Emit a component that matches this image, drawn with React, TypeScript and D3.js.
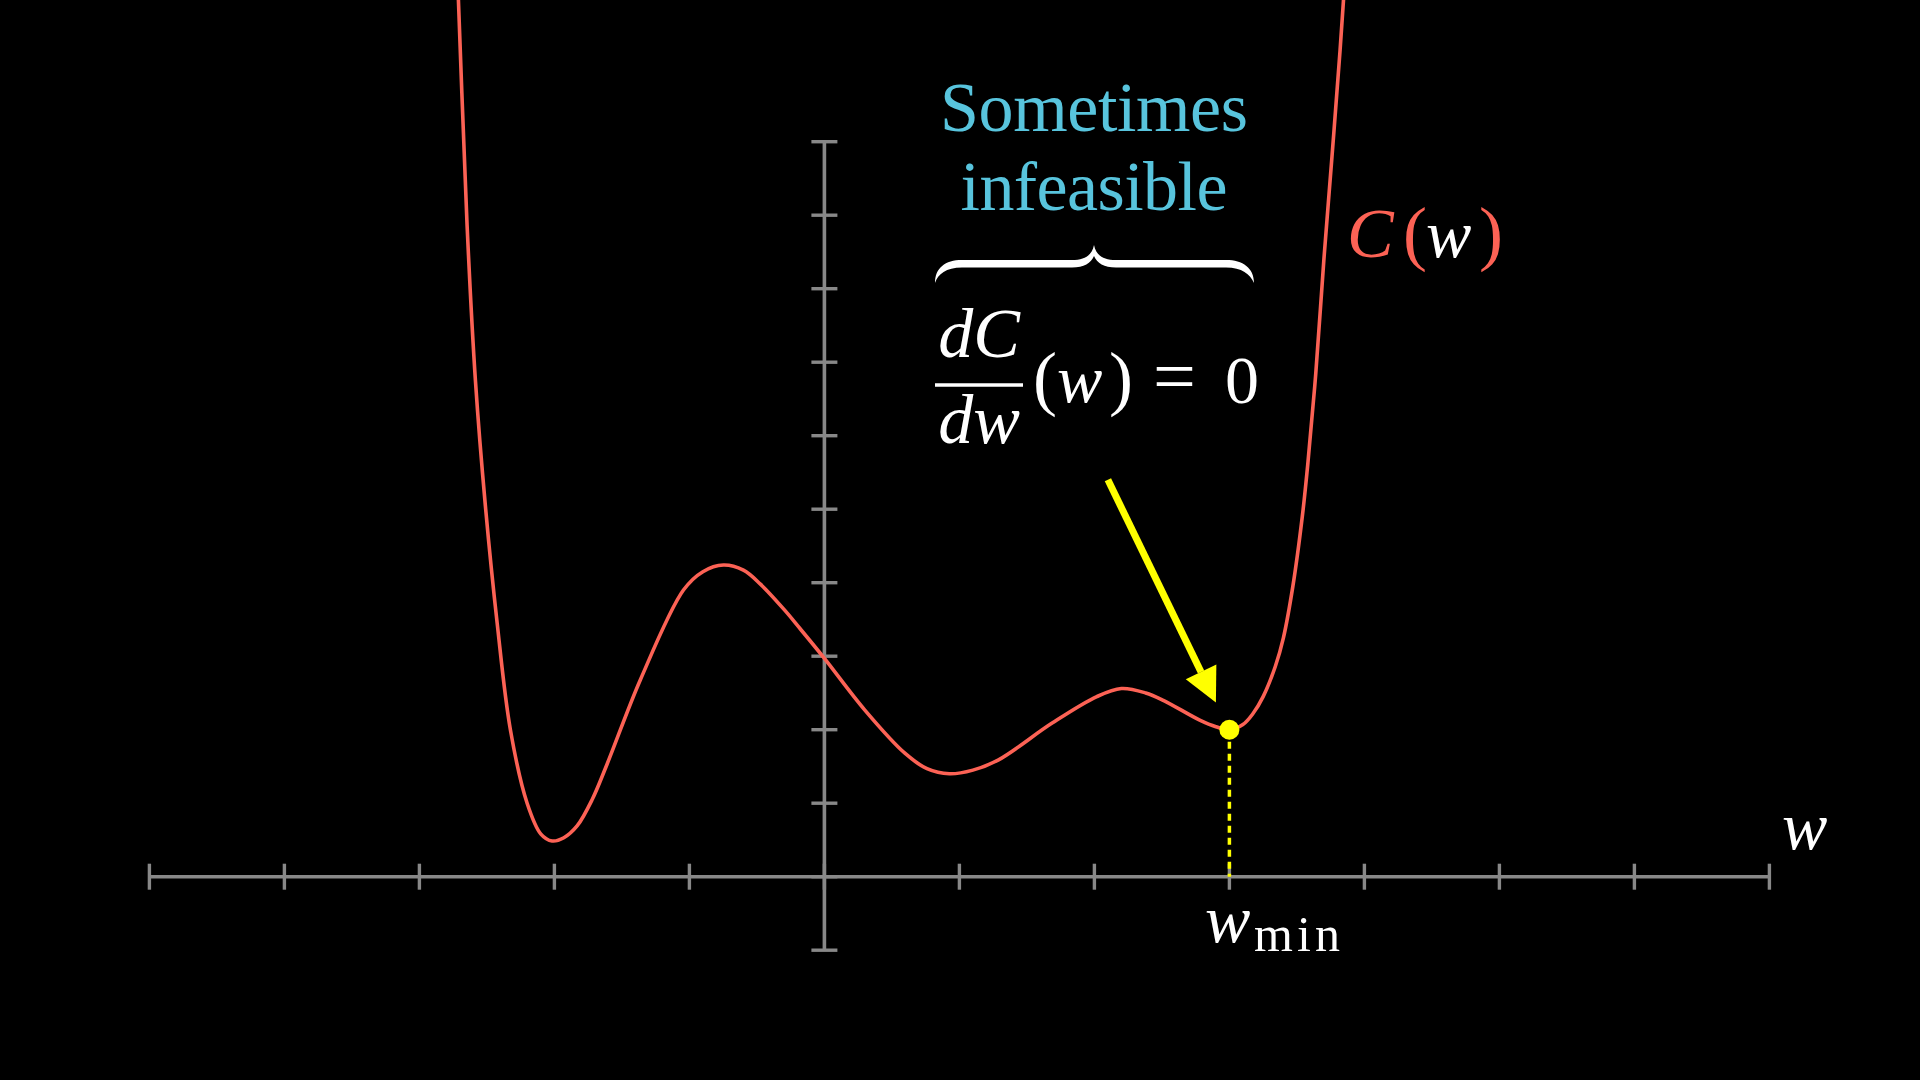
import React from 'react';
import * as d3 from 'd3';

// Cost curve C(w)
const curveW = [
  -2.77, -2.711, -2.647, -2.585, -2.511, -2.424, -2.326, -2.202, -2.1, -2.017, -1.93, -1.832,
  -1.72, -1.61, -1.363, -1.044, -0.9, -0.748, -0.6, -0.474, -0.296, -0.178, 0, 0.298, 0.596,
  0.76, 0.926, 1.1, 1.29, 1.687, 2.018, 2.2, 2.38, 2.51, 2.78, 2.9, 3.0, 3.1, 3.175, 3.25,
  3.34, 3.4, 3.47, 3.54, 3.58, 3.64, 3.7, 3.76, 3.82, 3.88,
];
const curveC = [
  14.7, 11.93, 8.87, 6.75, 5.04, 3.45, 2.0, 1.0, 0.58, 0.486, 0.53, 0.69,
  1.05, 1.53, 2.68, 3.9, 4.15, 4.24, 4.17, 3.98, 3.63, 3.37, 2.97, 2.27, 1.68,
  1.47, 1.4, 1.45, 1.59, 2.09, 2.45, 2.56, 2.5, 2.4, 2.13, 2.04, 2.0, 2.07, 2.22, 2.45,
  2.86, 3.25, 3.95, 4.9, 5.6, 6.85, 8.4, 9.8, 11.25, 12.9,
];

const xTickValues = [-5, -4, -3, -2, -1, 0, 1, 2, 3, 4, 5, 6, 7];
const yTickValues = [-1, 0, 1, 2, 3, 4, 5, 6, 7, 8, 9, 10];

const minimumW = 3;
const minimumC = 2;
const arrowFrom = [2.1, 5.4];
const arrowTo = [2.9, 2.37];

const RED = '#FC6255';
const YELLOW = '#FFFF00';
const BLUE = '#58C4DD';
const GREY = '#888888';
const SERIF = "'Liberation Serif'";

type TProps = {
  x: number;
  y: number;
  size: number;
  w?: number;
  fill?: string;
  italic?: boolean;
  anchor?: string;
  children: React.ReactNode;
};

function T({ x, y, size, w, fill = '#fff', italic = false, anchor = 'start', children }: TProps) {
  return (
    <text
      x={x}
      y={y}
      fill={fill}
      fontFamily={SERIF}
      fontStyle={italic ? 'italic' : 'normal'}
      fontSize={size}
      textAnchor={anchor}
      textLength={w}
      lengthAdjust={w ? 'spacing' : undefined}
    >
      {children}
    </text>
  );
}

export default function App() {
  const x = d3.scaleLinear().domain([-5, 7]).range([149.4, 1769.4]);
  const y = d3.scaleLinear().domain([-1, 10]).range([950.2, 141.7]);

  const line = d3
    .line<number>()
    .x((_, i) => x(curveW[i]))
    .y((d) => y(d))
    .curve(d3.curveCatmullRom.alpha(0.5));
  const curvePath = line(curveC) || '';

  const x0 = x(0);
  const y0 = y(0);
  const tick = 13;

  // arrow geometry
  const ax1 = x(arrowFrom[0]);
  const ay1 = y(arrowFrom[1]);
  const ax2 = x(arrowTo[0]);
  const ay2 = y(arrowTo[1]);
  const len = Math.hypot(ax2 - ax1, ay2 - ay1);
  const ux = (ax2 - ax1) / len;
  const uy = (ay2 - ay1) / len;
  const headLen = 34;
  const headHalf = 17;
  const bx = ax2 - ux * headLen;
  const by = ay2 - uy * headLen;
  const head = `M${ax2},${ay2} L${bx - uy * headHalf},${by + ux * headHalf} L${bx + uy * headHalf},${by - ux * headHalf} Z`;

  const brace =
    'M 935 283 C 935 268, 945 260, 962 260 L 1072 260 C 1085 260, 1092 255, 1094 245 ' +
    'C 1096 255, 1103 260, 1116 260 L 1226 260 C 1243 260, 1254 268, 1254 283 ' +
    'C 1250 274, 1242 267.5, 1226 267.5 L 1116 267.5 C 1104 267.5, 1097 263, 1094 256 ' +
    'C 1091 263, 1084 267.5, 1072 267.5 L 962 267.5 C 946 267.5, 938 274, 935 283 Z';

  return (
    <svg
      width={1920}
      height={1080}
      style={{ position: 'fixed', left: 0, top: 0, background: '#000' }}
    >
      <rect x={0} y={0} width={1920} height={1080} fill="#000" />

      {/* x axis */}
      <line x1={x(-5)} x2={x(7)} y1={y0} y2={y0} stroke={GREY} strokeWidth={3.6} />
      {xTickValues.map((v) => (
        <line key={'xt' + v} x1={x(v)} x2={x(v)} y1={y0 - tick} y2={y0 + tick} stroke={GREY} strokeWidth={3.4} />
      ))}

      {/* y axis */}
      <line x1={x0} x2={x0} y1={y(-1)} y2={y(10)} stroke={GREY} strokeWidth={3.6} />
      {yTickValues.map((v) => (
        <line key={'yt' + v} x1={x0 - tick} x2={x0 + tick} y1={y(v)} y2={y(v)} stroke={GREY} strokeWidth={3.4} />
      ))}

      {/* curve */}
      <path d={curvePath} fill="none" stroke={RED} strokeWidth={3.6} />

      {/* dashed line at minimum */}
      <line
        x1={x(minimumW)}
        x2={x(minimumW)}
        y1={y(minimumC) + 12}
        y2={y0}
        stroke={YELLOW}
        strokeWidth={3.5}
        strokeDasharray="7 5"
      />
      <circle cx={x(minimumW)} cy={y(minimumC)} r={10} fill={YELLOW} />

      {/* arrow */}
      <line x1={ax1} y1={ay1} x2={bx} y2={by} stroke={YELLOW} strokeWidth={7} />
      <path d={head} fill={YELLOW} />

      {/* axis label w */}
      <T x={1782} y={849} size={68} italic>w</T>

      {/* w_min */}
      <T x={1205} y={942} size={68} italic>w</T>
      <T x={1254} y={951} size={50} w={86}>min</T>

      {/* C(w) */}
      <T x={1347} y={257} size={70} fill={RED} italic>C</T>
      <T x={1403} y={257} size={72} fill={RED}>(</T>
      <T x={1426} y={257} size={68} italic>w</T>
      <T x={1479} y={257} size={72} fill={RED}>)</T>

      {/* Sometimes infeasible */}
      <T x={1094} y={131} size={70} w={308} fill={BLUE} anchor="middle">Sometimes</T>
      <T x={1094} y={210} size={70} w={267} fill={BLUE} anchor="middle">infeasible</T>

      {/* brace */}
      <path d={brace} fill="#fff" />

      {/* dC/dw (w) = 0 */}
      <T x={979} y={357} size={70} anchor="middle" italic>dC</T>
      <line x1={935} x2={1023} y1={385} y2={385} stroke="#fff" strokeWidth={3.5} />
      <T x={979} y={443} size={70} anchor="middle" italic>dw</T>
      <T x={1033} y={402} size={72}>(</T>
      <T x={1057} y={402} size={68} italic>w</T>
      <T x={1109} y={402} size={72}>)</T>
      <T x={1153} y={402} size={76}>=</T>
      <T x={1225} y={403} size={68}>0</T>
    </svg>
  );
}
